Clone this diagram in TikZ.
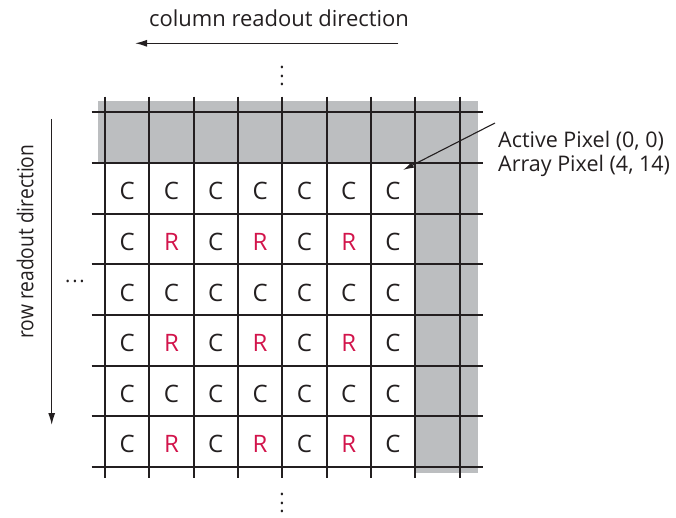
\documentclass[tikz,border=0pt]{standalone}
\usepackage{fontspec}
\setmainfont{Open Sans}
\usetikzlibrary{arrows.meta}
\definecolor{ink}{HTML}{231F20}
\definecolor{cellgray}{HTML}{BCBEC0}
\definecolor{rmark}{HTML}{D2144B}
\newcommand{\vdotstack}{\vbox{\baselineskip=8.3pt\lineskiplimit=-20pt\lineskip=0pt\hbox{.}\hbox{.}\hbox{.}}}
\newcommand{\hdotrow}{.\kern1.8pt.\kern1.8pt.}
\begin{document}
\begin{tikzpicture}[x=1pt,y=-1pt,
  gridline/.style={ink, line width=2pt},
  readarrow/.style={ink, line width=1.3pt, -{Latex[length=12pt,width=7pt]}},
  cellC/.style={font=\fontsize{24}{28}\selectfont, text=ink, inner sep=0pt},
  cellR/.style={cellC, text=rmark},
  lbl/.style={font=\fontsize{22}{26}\selectfont, text=ink, inner sep=0pt},
  dotsnode/.style={font=\fontsize{20}{24}\selectfont, text=ink, inner sep=0pt},
]
\useasboundingbox (0,0) rectangle (676,518);
% gray frame region
\fill[cellgray] (98.3,100.7) rectangle (478.3,163.1);
\fill[cellgray] (415.5,100.7) rectangle (478.3,473.3);
% grid
\foreach \i in {0,...,8} \draw[gridline] ({105+44.3125*\i},96.7) -- ({105+44.3125*\i},478.3);
\foreach \j in {0,...,7} \draw[gridline] (91.7,{112.5+50.6*\j}) -- (482.7,{112.5+50.6*\j});
% cell letters
\foreach \r in {1,...,6}{
  \foreach \c in {1,...,7}{
    \pgfmathtruncatemacro{\isr}{(mod(\r,2)==0)&&(mod(\c,2)==0)}
    \ifnum\isr=1
      \node[cellR] (c-\r-\c) at ({105+44.3125*(\c-0.5)},{112.5+50.6*(\r+0.5)+3}) {R};
    \else
      \node[cellC] (c-\r-\c) at ({105+44.3125*(\c-0.5)},{112.5+50.6*(\r+0.5)+3}) {C};
    \fi
  }
}
% labels
\node[lbl, anchor=base] (collbl) at (279,26.7) {column readout direction};
\node[lbl, rotate=90] (rowlbl) at (25,241.6) {\scalebox{0.875}[1]{row readout direction}};
\node[lbl, anchor=base west, font=\fontsize{21.5}{26}\selectfont] (act) at (498,148) {Active Pixel (0, 0)};
\node[lbl, anchor=base west, font=\fontsize{21.5}{26}\selectfont] (arr) at (498,172) {Array Pixel (4, 14)};
% dots
\node[dotsnode] (vdtop) at (282,76) {\vdotstack};
\node[dotsnode] (vdbot) at (282,503) {\vdotstack};
\node[dotsnode] (hdleft) at (75,281) {\hdotrow};
% arrows
\coordinate (colS) at (398.3,43.3);
\coordinate (colE) at (135,43.3);
\draw[readarrow] (colS) -- (colE);
\coordinate (rowS) at (51.7,119);
\coordinate (rowE) at (51.7,425);
\draw[readarrow] (rowS) -- (rowE);
\coordinate (pixS) at (495,123);
\coordinate (pixE) at (403,170);
\draw[ink, line width=1.1pt, -{Latex[length=11pt,width=6pt]}] (pixS) -- (pixE);
\end{tikzpicture}
\end{document}
